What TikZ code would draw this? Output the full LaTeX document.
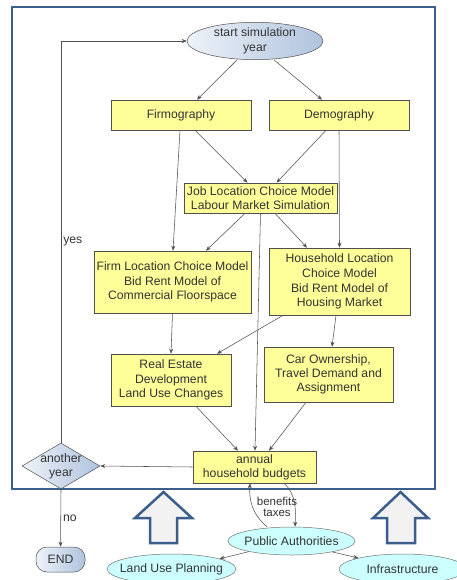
\documentclass[tikz,border=0pt]{standalone}
\usepackage{fontspec}
\setmainfont{Liberation Sans}
\usetikzlibrary{shapes.geometric,arrows.meta,calc}
\definecolor{txt}{HTML}{333333}
\definecolor{ln}{HTML}{505050}
\definecolor{frameblue}{HTML}{3B5E8C}
\definecolor{boxyellow}{HTML}{FFFF99}
\definecolor{cyanfill}{HTML}{CCFFFF}
\definecolor{gradL}{HTML}{EEF2F9}
\definecolor{gradR}{HTML}{AFC3DE}
\definecolor{arrowfill}{HTML}{F2F2F2}
\tikzset{
  every node/.style={text=txt, font=\fontsize{12.2}{14.3}\selectfont},
  ybox/.style={draw=ln, fill=boxyellow, line width=0.6pt, align=center, inner sep=1pt},
  startell/.style={ellipse, draw=ln, line width=0.5pt, left color=gradL, right color=gradR, align=center, inner xsep=-6pt, inner ysep=0pt},
  cyell/.style={ellipse, draw=ln!80, line width=0.5pt, fill=cyanfill, inner xsep=-6pt, inner ysep=0pt},
  conn/.style={draw=ln, line width=0.55pt, -{Stealth[length=5pt,width=4pt]}},
  blockarrow/.style={draw=frameblue, line width=2.5pt, fill=arrowfill, line join=miter},
}
\begin{document}
\begin{tikzpicture}[x=1pt,y=-1pt]
\useasboundingbox (0,0) rectangle (456,580);
% frame
\draw[frameblue, line width=2.5pt] (12,7) rectangle (435,489);
% block arrows
\draw[blockarrow] (163.5,492) -- (192,518) -- (177,518) -- (177,543) -- (150,543) -- (150,518) -- (135,518) -- cycle;
\draw[blockarrow] (400.5,492) -- (428,518) -- (415,518) -- (415,543) -- (387,543) -- (387,518) -- (373,518) -- cycle;
% nodes
\node[startell, minimum width=136pt, minimum height=36pt, font=\fontsize{12.2}{15}\selectfont] (start) at (255,41) {start simulation\\year};
\node[ybox, minimum width=140pt, minimum height=30pt] (firmog) at (181,115) {Firmography};
\node[ybox, minimum width=140pt, minimum height=30pt] (demog) at (339,115) {Demography};
\node[ybox, minimum width=153pt, minimum height=30pt] (job) at (260.5,198) {Job Location Choice Model\\Labour Market Simulation};
\node[ybox, minimum width=157pt, minimum height=62pt, font=\fontsize{12.2}{14.8}\selectfont] (firmloc) at (172.5,282) {Firm Location Choice Model\\Bid Rent Model of\\Commercial Floorspace};
\node[ybox, minimum width=141pt, minimum height=67pt, font=\fontsize{12.2}{14.8}\selectfont] (hh) at (339.5,281.5) {Household Location\\Choice Model\\Bid Rent Model of\\Housing Market};
\node[ybox, minimum width=120pt, minimum height=52pt] (re) at (171,380) {Real Estate\\Development\\Land Use Changes};
\node[ybox, minimum width=129pt, minimum height=55pt] (car) at (328.5,374.5) {Car Ownership,\\Travel Demand and\\Assignment};
\node[ybox, minimum width=123pt, minimum height=32pt] (bud) at (254.5,467) {annual\\household budgets};
\node[diamond, aspect=1.7, draw=ln, line width=0.5pt, left color=gradL, right color=gradR, inner sep=0pt, minimum width=78pt, minimum height=46pt] (another) at (61,466) {};
\node[align=center, inner sep=0pt, font=\fontsize{12.2}{14.3}\selectfont] (anothertxt) at (another.center) {another\\year};
\node[draw=ln, line width=0.5pt, rounded corners=11pt, left color=gradL, right color=gradR, minimum width=49pt, minimum height=25pt, inner sep=0pt] (end) at (60.5,559.5) {END};
\node[cyell, minimum width=127pt, minimum height=28pt] (pa) at (291.5,541) {Public Authorities};
\node[cyell, minimum width=127pt, minimum height=30pt] (lup) at (171.5,569) {Land Use Planning};
\node[cyell, minimum width=127pt, minimum height=30pt] (infra) at (402.5,569) {Infrastructure};
% connectors
\draw[conn] ([xshift=-18]start.south) -- ([xshift=16]firmog.north);
\draw[conn] ([xshift=19]start.south) -- ([xshift=-17]demog.north);
\draw[conn] ([xshift=14]firmog.south) -- ([xshift=-13]job.north);
\draw[conn] ([xshift=-13]demog.south) -- ([xshift=16]job.north);
\draw[conn] ([xshift=-1]firmog.south) -- ([xshift=0.5]firmloc.north);
\draw[conn] (demog.south) -- (hh.north);
\draw[conn] ([xshift=-15.5]job.south) -- ([xshift=33.5]firmloc.north);
\draw[conn] ([xshift=14.5]job.south) -- ([xshift=-32.5]hh.north);
\draw[conn] ([xshift=0]job.south) -- ([xshift=0.5]bud.north);
\draw[conn] (firmloc.south) -- (re.north);
\draw[conn] ([xshift=-56.5]hh.south) -- ([xshift=46]re.north);
\draw[conn] ([xshift=-3.5]hh.south) -- ([xshift=3.5]car.north);
\draw[conn] ([xshift=25]re.south) -- ([xshift=-16.5]bud.north);
\draw[conn] ([xshift=-22.5]car.south) -- ([xshift=14.5]bud.north);
\draw[conn] (bud.west) -- (another.east);
\draw[conn] (another.north) |- node[pos=0.25, right, inner sep=2pt] (yeslbl) {yes} (start.west);
\draw[conn] (another.south) -- node[pos=0.5, right, inner sep=2pt] (nolbl) {no} (end.north);
\draw[conn] ([xshift=-24.5]pa.north) .. controls (252,514) and (249,500) .. ([xshift=-4.5]bud.south);
\draw[conn] ([xshift=29.5]bud.south) .. controls (296,494) and (296,510) .. ([xshift=3.5]pa.north);
\node[align=center, font=\fontsize{11.5}{11.5}\selectfont, inner sep=0pt] (bt) at (277,507) {benefits\\taxes};
\draw[conn] (pa.194) -- (lup.12);
\draw[conn] (pa.345) -- (infra.166);
\end{tikzpicture}
\end{document}
